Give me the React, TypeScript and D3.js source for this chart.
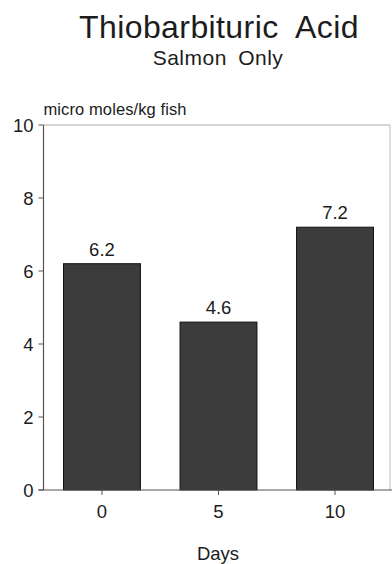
import React from "react";
import * as d3 from "d3";

const categories = ["0", "5", "10"];
const values = [6.2, 4.6, 7.2];
const valueLabels = ["6.2", "4.6", "7.2"];
const yTicks = [0, 2, 4, 6, 8, 10];

const W = 392;
const H = 564;
const FONT = "'Liberation Sans', Arial, Helvetica, sans-serif";

export default function App() {
  const left = 43.5;
  const right = 390;
  const top = 125;
  const bottom = 490;
  const x = d3.scaleBand<string>().domain(categories).range([46.5, 390.5]).paddingInner(0.34).paddingOuter(0.146);
  const y = d3.scaleLinear().domain([0, 10]).range([bottom, top]);
  const ink = "#1c1c1c";
  return (
    <div style={{ position: "absolute", left: 0, top: 0 }}>
      <svg width={W} height={H} style={{ display: "block" }} fontFamily={FONT}>
        <rect x={0} y={0} width={W} height={H} fill="#fff" />
        <text x={219} y={38} textAnchor="middle" fontSize={32} fill={ink} style={{ wordSpacing: "9px", letterSpacing: "0.4px" }}>Thiobarbituric Acid</text>
        <text x={218} y={65} textAnchor="middle" fontSize={21} fill={ink} style={{ wordSpacing: "5px", letterSpacing: "0.5px" }}>Salmon Only</text>
        <text x={left} y={115} fontSize={16.5} fill={ink} style={{ letterSpacing: "0.1px" }}>micro moles/kg fish</text>
        {/* frame */}
        <line x1={left} x2={right} y1={top} y2={top} stroke="#aaa" strokeWidth={1} />
        <line x1={right} x2={right} y1={top} y2={bottom} stroke="#bbb" strokeWidth={1} />
        {/* bars */}
        {values.map((v, i) => (
          <g key={categories[i]}>
            <rect
              x={x(categories[i])!}
              y={y(v)}
              width={x.bandwidth()}
              height={bottom - y(v)}
              fill="#3c3c3c"
              stroke="#111"
              strokeWidth={1}
            />
            <text x={x(categories[i])! + x.bandwidth() / 2} y={y(v) - 8} textAnchor="middle" fontSize={18.5} fill={ink}>
              {valueLabels[i]}
            </text>
          </g>
        ))}
        {/* y axis */}
        <line x1={left} x2={left} y1={top} y2={bottom} stroke="#555" strokeWidth={1.2} />
        {yTicks.map((t) => (
          <g key={t}>
            <line x1={left - 5} x2={left} y1={y(t)} y2={y(t)} stroke="#555" strokeWidth={1} />
            <text x={left - 10} y={y(t)} dy="0.36em" textAnchor="end" fontSize={18.5} fill={ink}>
              {t}
            </text>
          </g>
        ))}
        {/* x axis */}
        <line x1={left - 5} x2={W} y1={bottom} y2={bottom} stroke="#555" strokeWidth={1.2} />
        {categories.map((c) => {
          const cx = x(c)! + x.bandwidth() / 2;
          return (
            <g key={c}>
              <line x1={cx} x2={cx} y1={bottom} y2={bottom + 5} stroke="#555" strokeWidth={1} />
              <text x={cx} y={518} textAnchor="middle" fontSize={18.5} fill={ink}>
                {c}
              </text>
            </g>
          );
        })}
        <text x={218} y={560} textAnchor="middle" fontSize={18.5} fill={ink}>Days</text>
      </svg>
    </div>
  );
}
